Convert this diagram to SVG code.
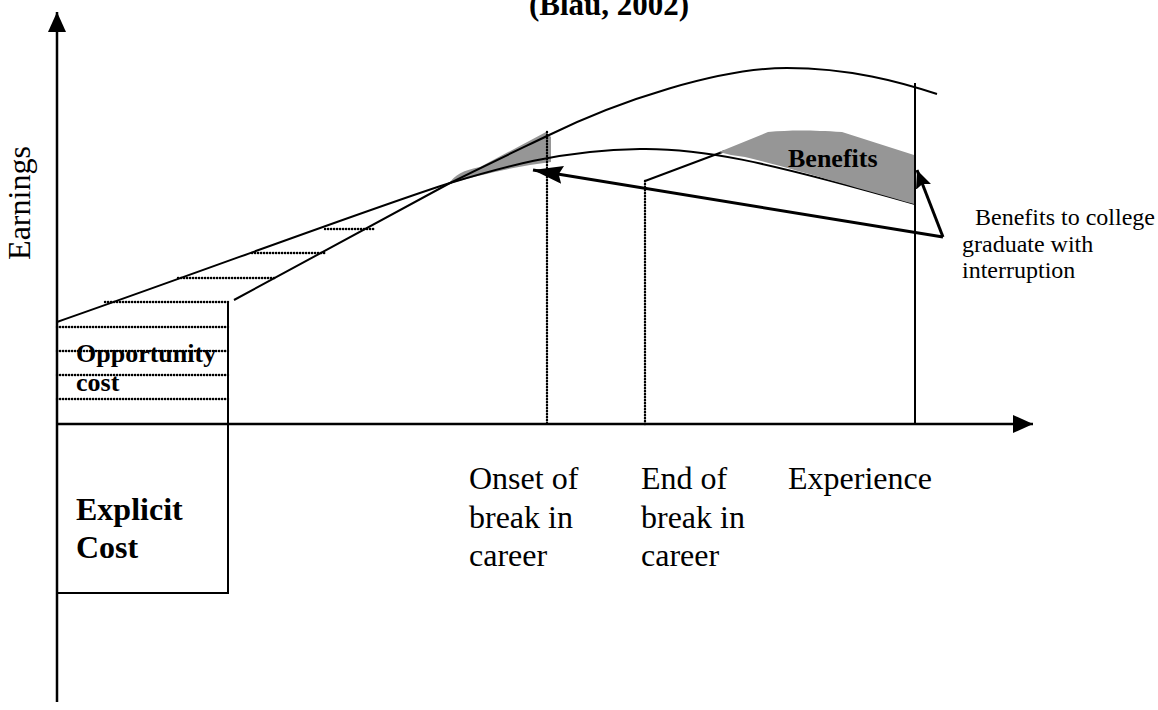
<svg xmlns="http://www.w3.org/2000/svg" width="1158" height="710" viewBox="0 0 1158 710">
<defs>
<style>
.ln{fill:none;stroke:#000;stroke-width:2}
.ax{fill:none;stroke:#000;stroke-width:2.5}
.dot{fill:none;stroke:#000;stroke-width:2.4;stroke-linecap:round;stroke-dasharray:0.2 2.8}
.arr{fill:none;stroke:#000;stroke-width:3}
.gray{fill:#969696;stroke:none}
.t{font-family:"Liberation Serif","Times New Roman",serif;fill:#000}
.b{font-weight:bold}
.s32{font-size:32px}
.s26{font-size:26px}
.s24{font-size:24px}
</style>
<marker id="axisHead" markerUnits="userSpaceOnUse" viewBox="0 0 20 18" markerWidth="20" markerHeight="18" refX="20" refY="9" orient="auto">
<path d="M0,0 L20,9 L0,18 Z" fill="#000"/>
</marker>
<marker id="bigHead" markerUnits="userSpaceOnUse" viewBox="0 0 30 18" markerWidth="30" markerHeight="18" refX="30" refY="9" orient="auto">
<path d="M0,0 L30,9 L0,18 L4,9 Z" fill="#000"/>
</marker>
<marker id="smallHead" markerUnits="userSpaceOnUse" viewBox="0 0 18 16" markerWidth="18" markerHeight="16" refX="18" refY="8" orient="auto">
<path d="M0,0 L18,8 L0,16 L3,8 Z" fill="#000"/>
</marker>
</defs>
<rect width="1158" height="710" fill="#fff"/>

<g id="title">
<text class="t b" x="529" y="15" font-size="31">(Blau, 2002)</text>
</g>

<g id="onset-gray">
<path class="gray" d="M449,184 C454,175 464,170 480,167 L546,132 L551,137 L551,162 L530,165 C500,170 472,177 449,184 Z"/>
</g>

<g id="axes">
<line class="ax" x1="57" y1="702" x2="57" y2="12" marker-end="url(#axisHead)"/>
<line class="ax" x1="57" y1="424" x2="1033" y2="424" marker-end="url(#axisHead)"/>
</g>

<g id="opportunity-cost">
<line class="dot" x1="105" y1="302" x2="228" y2="302"/>
<line class="dot" x1="57" y1="327" x2="228" y2="327"/>
<line class="dot" x1="57" y1="351" x2="228" y2="351"/>
<line class="dot" x1="57" y1="375" x2="228" y2="375"/>
<line class="dot" x1="57" y1="399" x2="228" y2="399"/>
<line class="dot" x1="178" y1="278" x2="275" y2="278"/>
<line class="dot" x1="252" y1="253" x2="326" y2="253"/>
<line class="dot" x1="325" y1="229" x2="375" y2="229"/>
<text class="t b s26" x="76" y="362">Opportunity</text>
<text class="t b s26" x="76" y="391">cost</text>
</g>

<g id="explicit-cost">
<path class="ln" d="M228,302 L228,593 L57,593"/>
<text class="t b s32" x="76" y="520">Explicit</text>
<text class="t b s32" x="76" y="558">Cost</text>
</g>

<g id="curves">
<path id="curve-hs" class="ln" d="M57,322 C200,272 380,205 450,183 C500,168 560,150 640,149 C700,148 760,160 915,204"/>
<path id="curve-college" class="ln" d="M234,300 L450,183 C480,168 520,149 547,136 C620,100 720,68 787,68 C850,68 900,82 937,94"/>
<path id="curve-after-break" class="ln" d="M645,181 L725,151"/>
</g>

<g id="benefits">
<path class="gray" d="M719,152 L768,132 C790,130 810,130 842,132 L914,155 L914,204 C860,189 790,168 745,157 L731,155 Z"/>
<text class="t b s26" x="788" y="167">Benefits</text>
</g>

<g id="markers">
<line class="dot" x1="547" y1="132" x2="547" y2="424"/>
<line class="dot" x1="645" y1="181" x2="645" y2="424"/>
<line class="ln" x1="915" y1="83" x2="915" y2="424"/>
</g>

<g id="connectors">
<path class="arr" d="M943,237 L533,170" marker-end="url(#bigHead)"/>
<path class="arr" d="M943,237 L917,170" marker-end="url(#smallHead)"/>
</g>

<g id="earnings-label">
<text class="t s32" transform="translate(30,203) rotate(-90)" text-anchor="middle">Earnings</text>
</g>

<g id="x-labels">
<text class="t s32" x="469" y="489">Onset of</text>
<text class="t s32" x="469" y="528">break in</text>
<text class="t s32" x="469" y="566">career</text>
<text class="t s32" x="641" y="489">End of</text>
<text class="t s32" x="641" y="528">break in</text>
<text class="t s32" x="641" y="566">career</text>
<text class="t s32" x="788" y="489">Experience</text>
</g>

<g id="benefits-note">
<text class="t s24" x="975" y="225">Benefits to college</text>
<text class="t s24" x="962" y="252">graduate with</text>
<text class="t s24" x="962" y="278">interruption</text>
</g>
</svg>
